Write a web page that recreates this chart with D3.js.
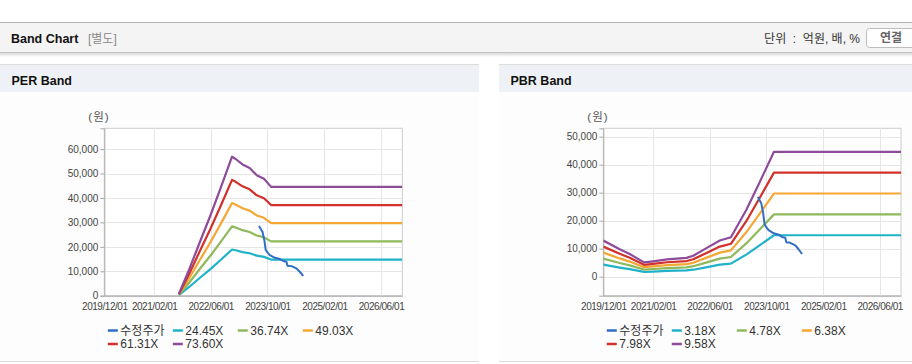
<!DOCTYPE html>
<html><head><meta charset="utf-8">
<script src="https://cdn.jsdelivr.net/npm/d3@7"></script>
<style>
body{margin:0;background:#fff;font-family:"Liberation Sans","Noto Sans CJK KR",sans-serif;}
svg{display:block}
</style></head><body><svg id="c" width="912" height="364"></svg>
<script>
// ---------- DATA ----------
const xTickLabels = ["2019/12/01","2021/02/01","2022/06/01","2023/10/01","2025/02/01","2026/06/01"];
const xDomain = ["2019-12-01","2026-12-01"];

const priceName = "수정주가";
const priceDates = ["2023-07-20","2023-08-19","2023-09-04","2023-09-16","2023-10-04","2023-10-21","2023-12-04","2024-01-16","2024-02-13","2024-03-12","2024-03-21","2024-04-24","2024-06-06","2024-07-04","2024-08-03"];
const priceValues = [28500,26200,22800,18700,17500,16600,15500,15000,14200,13900,12300,12100,11200,9800,8100];

// PER band
const perMultiples = ["24.45X","36.74X","49.03X","61.31X","73.60X"];
const perDates = ["2021-09-01","2021-12-01","2022-03-01","2022-06-01","2022-09-01","2022-12-01","2023-01-01","2023-03-01","2023-05-01","2023-07-01","2023-09-01","2023-11-01","2026-12-01"];
const per2445 = [245,3668,7335,11003,14915,18900,18582,17849,17360,16382,15893,14792,14792];
const per3674 = [367,5511,11022,16533,22411,28400,27922,26820,26085,24616,23881,22228,22228];
const per4903 = [490,7355,14709,22064,29908,37900,37263,35792,34811,32850,31870,29663,29663];
const per6131 = [613,9197,18393,27590,37399,47393,46596,44756,43530,41078,39852,37093,37093];
const per7360 = [736,11040,22080,33120,44896,56893,55936,53728,52256,49312,47840,44528,44528];
const perTicks = [0,10000,20000,30000,40000,50000,60000];

// PBR band
const pbrMultiples = ["3.18X","4.78X","6.38X","7.98X","9.58X"];
const pbrDates = ["2019-12-01","2020-04-20","2020-07-15","2020-11-15","2021-02-01","2021-06-01","2021-11-15","2022-01-12","2022-05-01","2022-08-28","2022-12-01","2023-04-12","2023-08-01","2023-12-06","2026-12-01"];
const pbr318 = [4283,3253,2687,1692,1825,2057,2226,2490,3352,4283,4681,7899,11085,14806,14806];
const pbr478 = [6439,4890,4039,2543,2744,3093,3346,3743,5038,6439,7036,11874,16663,22256,22256];
const pbr638 = [8594,6527,5391,3394,3662,4128,4466,4996,6725,8594,9391,15848,22241,29705,29705];
const pbr798 = [10749,8164,6743,4245,4581,5163,5586,6248,8411,10749,11747,19822,27818,37155,37155];
const pbr958 = [12904,9800,8095,5097,5499,6198,6706,7501,10097,12904,14102,23797,33396,44604,44604];
const pbrTicks = [0,10000,20000,30000,40000,50000];

const colors = ["#2f6fc6","#1fb2c9","#8fb95b","#f5a733","#d2302a","#8d4b9a"];

// ---------- DRAW ----------
const svg = d3.select("#c");
const parse = d3.timeParse("%Y-%m-%d");
const parseTick = d3.timeParse("%Y/%m/%d");
const fmtTick = d3.timeFormat("%Y/%m/%d");

// top header
svg.append("rect").attr("x",0).attr("y",22).attr("width",912).attr("height",1).attr("fill","#b8b8b8");
svg.append("rect").attr("x",0).attr("y",23).attr("width",912).attr("height",30).attr("fill","#f4f4f4");
const grad = svg.append("defs").append("linearGradient").attr("id","sh").attr("x1",0).attr("y1",0).attr("x2",0).attr("y2",1);
grad.append("stop").attr("offset",0).attr("stop-color","#d8d8d8");
grad.append("stop").attr("offset",1).attr("stop-color","#ffffff");
svg.append("rect").attr("x",0).attr("y",53).attr("width",912).attr("height",4).attr("fill","url(#sh)");
svg.append("rect").attr("x",0).attr("y",52).attr("width",912).attr("height",1).attr("fill","#c4c4c4");
svg.append("text").attr("x",11).attr("y",42.5).attr("font-size","12.5px").attr("font-weight","bold").attr("fill","#111").text("Band Chart");
svg.append("text").attr("x",88).attr("y",42.5).attr("font-size","12px").attr("fill","#8a8a8a").text("[별도]");
svg.append("text").attr("x",860).attr("y",42.5).attr("text-anchor","end").attr("font-size","12px").attr("fill","#333").attr("xml:space","preserve").text("단위  :  억원, 배, %");
svg.append("rect").attr("x",866.5).attr("y",28.5).attr("width",60).attr("height",19).attr("rx",3).attr("fill","#fff").attr("stroke","#bdbdbd");
svg.append("text").attr("x",891).attr("y",42).attr("text-anchor","middle").attr("font-size","12px").attr("font-weight","bold").attr("fill","#666").text("연결");

function drawChart(cfg){
  const g = svg.append("g");
  // panel
  g.append("rect").attr("x",cfg.px).attr("y",64).attr("width",cfg.pw).attr("height",1).attr("fill","#dcdcdc");
  g.append("rect").attr("x",cfg.px).attr("y",65).attr("width",cfg.pw).attr("height",27).attr("fill","#eef2f7");
  g.append("rect").attr("x",cfg.px).attr("y",92).attr("width",cfg.pw).attr("height",269).attr("fill","#fdfdfd");
  g.append("rect").attr("x",cfg.px).attr("y",361).attr("width",cfg.pw).attr("height",1).attr("fill","#dcdcdc");
  g.append("text").attr("x",cfg.px+11.5).attr("y",85).attr("font-size","12.5px").attr("font-weight","bold").attr("fill","#111").text(cfg.title);

  const x = d3.scaleTime().domain(xDomain.map(parse)).range([cfg.left,cfg.right]);
  const y = d3.scaleLinear().domain(cfg.yDomain).range([cfg.bottom,cfg.top]);

  g.append("rect").attr("x",cfg.left).attr("y",cfg.top).attr("width",cfg.right-cfg.left).attr("height",cfg.bottom-cfg.top)
    .attr("fill","#fff").attr("stroke","#cccccc");
  // grid
  xTickLabels.forEach(t=>{
    const xx = Math.round(x(parseTick(t)))+0.5;
    g.append("line").attr("x1",xx).attr("x2",xx).attr("y1",cfg.top).attr("y2",cfg.bottom).attr("stroke","#e6e6e6");
  });
  cfg.ticks.forEach(t=>{
    const yy = Math.round(y(t))+0.5;
    g.append("line").attr("x1",cfg.left).attr("x2",cfg.right).attr("y1",yy).attr("y2",yy).attr("stroke","#e6e6e6");
  });
  // axes
  const ax = g.append("g").attr("transform",`translate(0,${cfg.bottom})`)
    .call(d3.axisBottom(x).tickValues(xTickLabels.map(parseTick)).tickFormat(fmtTick).tickSize(0).tickPadding(7.5));
  ax.select(".domain").attr("stroke","#a8a8a8");
  ax.selectAll("text").attr("font-size","10px").attr("letter-spacing","-0.45px").attr("fill","#444").attr("font-family","Liberation Sans, sans-serif");
  const ay = g.append("g").attr("transform",`translate(${cfg.left},0)`)
    .call(d3.axisLeft(y).tickValues(cfg.ticks).tickFormat(d3.format(",")).tickSize(4).tickPadding(2));
  ay.select(".domain").attr("stroke","#a8a8a8");
  ay.selectAll("line").attr("stroke","#a8a8a8");
  ay.selectAll("text").attr("font-size","10px").attr("fill","#444").attr("font-family","Liberation Sans, sans-serif");

  g.append("text").attr("x",cfg.left-16).attr("y",121).attr("font-size","11.5px").attr("fill","#555").attr("letter-spacing","1px").text("(원)");

  // lines
  const line = d3.line().x(d=>x(d[0])).y(d=>y(d[1]));
  const clipId = "clip"+cfg.title.replace(/\s/g,"");
  g.append("clipPath").attr("id",clipId).append("rect").attr("x",cfg.left).attr("y",cfg.top).attr("width",cfg.right-cfg.left).attr("height",cfg.bottom-cfg.top);
  const lg = g.append("g").attr("clip-path",`url(#${clipId})`);
  cfg.bands.forEach((vals,i)=>{
    const pts = cfg.dates.map((d,j)=>[parse(d),vals[j]]);
    lg.append("path").attr("d",line(pts)).attr("fill","none").attr("stroke",colors[i+1]).attr("stroke-width",2.2).attr("stroke-linejoin","round");
  });
  const pp = priceDates.map((d,j)=>[parse(d),priceValues[j]]);
  lg.append("path").attr("d",line(pp)).attr("fill","none").attr("stroke",colors[0]).attr("stroke-width",2).attr("stroke-linejoin","round");

  // legend
  const names = [priceName].concat(cfg.multiples);
  names.forEach((n,i)=>{
    const col = i%4, row = Math.floor(i/4);
    const lx = cfg.left+3.5+col*65, ly = 330.5+row*13.5;
    g.append("line").attr("x1",lx).attr("x2",lx+10).attr("y1",ly).attr("y2",ly).attr("stroke",colors[i]).attr("stroke-width",2.5);
    g.append("text").attr("x",lx+12.5).attr("y",ly).attr("dy","0.36em").attr("font-size","12px").attr("fill","#333").text(n);
  });
}

drawChart({title:"PER Band", px:0, pw:479, left:104.3, right:402.3, top:128.3, bottom:295.7,
  yDomain:[0,68500], ticks:perTicks, dates:perDates, bands:[per2445,per3674,per4903,per6131,per7360], multiples:perMultiples});
drawChart({title:"PBR Band", px:499, pw:413, left:603.3, right:901, top:128.3, bottom:295.7,
  yDomain:[-6790,53000], ticks:pbrTicks, dates:pbrDates, bands:[pbr318,pbr478,pbr638,pbr798,pbr958], multiples:pbrMultiples});
</script></body></html>
